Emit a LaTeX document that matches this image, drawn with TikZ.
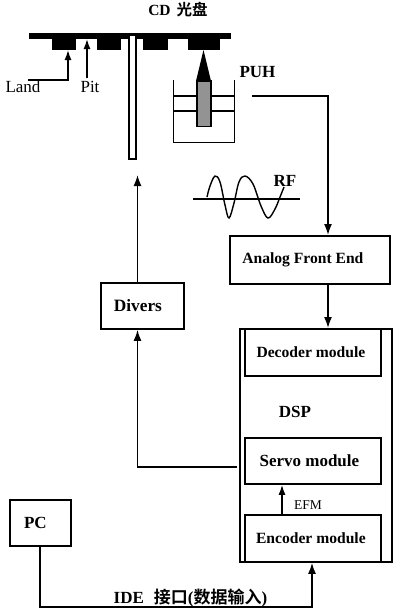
\documentclass[tikz,border=0pt]{standalone}
\usepackage{fontspec}
\setmainfont{Liberation Serif}
\newfontfamily\cjk{Noto Sans CJK SC}[BoldFont={Noto Sans CJK SC Bold}]
\usetikzlibrary{arrows.meta}
\tikzset{
  x=1pt,y=-1pt,
  boxn/.style={draw=black,line width=1.8pt,inner sep=0pt,anchor=north west,font=\bfseries\fontsize{15.6}{15.6}\selectfont},
  wire/.style={draw=black,line width=1.6pt},
  arr/.style={wire,-{Latex[length=11pt,width=8pt]}},
  thinarr/.style={draw=black,line width=1.4pt,-{Latex[length=10pt,width=7pt]}},
  lbl/.style={inner sep=0pt,font=\bfseries\fontsize{17}{17}\selectfont},
  reg/.style={inner sep=0pt,font=\fontsize{17}{17}\selectfont},
  puhline/.style={draw=black,line width=1.4pt},
}
\begin{document}
\begin{tikzpicture}
\useasboundingbox (0,0) rectangle (400,614);
\fill[white] (0,0) rectangle (400,614);
% disc
\fill[black] (29,33) rectangle (231,39);
\fill[black] (52,39) rectangle (76,50);
\fill[black] (97,39) rectangle (121,50);
\fill[black] (143,39) rectangle (168,50);
\fill[black] (188,39) rectangle (220,50);
\node[lbl,font=\bfseries\fontsize{15.5}{15.5}\selectfont] (cd) at (178,10) {CD\hspace{6pt}{\cjk 光盘}};
\node[draw=black,line width=1.7pt,fill=white,minimum width=7pt,minimum height=124pt,inner sep=0pt,anchor=north west] (slot) at (128.3,34) {};
% land / pit
\node[reg] (land) at (23,87) {Land};
\node[reg] (pit) at (90,87) {Pit};
\coordinate (landc) at (28,80);
\coordinate (landb) at (68,80);
\coordinate (landt) at (68,50);
\coordinate (pitb) at (87,78);
\coordinate (pitt) at (87,39);
\draw[thinarr] (landc) -- (landb) -- (landt);
\draw[thinarr] (pitb) -- (pitt);
% PUH
\draw[puhline] (173.5,80) -- (173.5,142.5) -- (234.5,142.5) -- (234.5,80);
\draw[puhline] (173.5,96) -- (234.5,96) (173.5,111) -- (234.5,111);
\fill[black] (203.5,50) -- (196,81) -- (211,81) -- cycle;
\draw[draw=black,line width=1.8pt,fill=gray!85] (197,81) rectangle (211,126.5);
\node[lbl] (puh) at (257.5,72) {PUH};
% RF
\draw[puhline] (193,199) -- (300,199);
\draw[puhline] plot[smooth,tension=0.6] coordinates {(207,197) (210,186) (215,176) (220,182) (225,205) (229,218) (234,203) (239,182) (245,176) (253,184) (261,206) (268,218) (275,209) (280,197) (284,187)};
\node[lbl] (rf) at (285,181) {RF};
% boxes
\node[boxn,minimum width=160pt,minimum height=48pt] (afe) at (229,235) {Analog Front End\hspace{14pt}\null};
\node[boxn,minimum width=83pt,minimum height=46pt,font=\bfseries\fontsize{17.3}{17.3}\selectfont] (div) at (100,282) {Divers\hspace{9pt}\null};
\node[draw=black,line width=1.7pt,inner sep=0pt,anchor=north west,minimum width=152pt,minimum height=233pt] (dsp) at (239,328) {};
\node[boxn,minimum width=136pt,minimum height=47pt] (dec) at (244,328) {Decoder module\hspace{4pt}\null};
\node[boxn,minimum width=136pt,minimum height=46pt,font=\bfseries\fontsize{17}{17}\selectfont] (servo) at (244,437) {Servo module\hspace{7pt}\null};
\node[boxn,minimum width=136pt,minimum height=47pt] (enc) at (244,514) {Encoder module\hspace{4pt}\null};
\node[lbl,font=\bfseries\fontsize{17}{17}\selectfont] (dsplabel) at (295,412) {DSP};
\node[inner sep=0pt,font=\fontsize{13.5}{13.5}\selectfont] (efm) at (308,505) {EFM};
\node[boxn,minimum width=61pt,minimum height=46pt,font=\bfseries\fontsize{17}{17}\selectfont] (pc) at (9,499) {PC\hspace{10pt}\null};
\node[lbl] (ide) at (190.5,598) {IDE\hspace{10pt}{\cjk 接口}({\cjk 数据输入})};
% connectors
\coordinate (puho) at (252,96);
\coordinate (puhc) at (328,96);
\draw[arr] (puho) -- (puhc) -- (afe.north -| puhc);
\draw[arr] (afe.south -| puhc) -- (dsp.north -| puhc);
\coordinate (servoo) at (237,467);
\coordinate (servoc) at (137.5,467);
\draw[arr] (servoo) -- (servoc) -- (div.south -| servoc);
\coordinate (slotb) at (137.5,175);
\draw[arr] (div.north -| slotb) -- (slotb);
\coordinate (efmx) at (282,514);
\draw[thinarr] (enc.north -| efmx) -- (servo.south -| efmx);
\coordinate (idec) at (40,607);
\coordinate (idee) at (312,607);
\draw[arr] (pc.south -| idec) -- (idec) -- (idee) -- (enc.south -| idee);
\end{tikzpicture}
\end{document}
